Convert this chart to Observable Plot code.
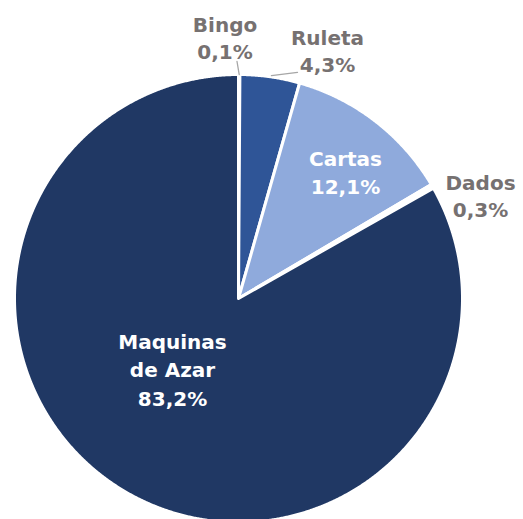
<!DOCTYPE html>
<html>
<head>
<meta charset="utf-8">
<script src="https://cdn.jsdelivr.net/npm/d3@7"></script>
<script src="https://cdn.jsdelivr.net/npm/@observablehq/plot@0.6"></script>
<style>
  html, body { margin: 0; padding: 0; background: #ffffff; }
  #chart svg { display: block; }
</style>
</head>
<body>
<div id="chart"></div>
<script>
// ---- data (clockwise from 12 o'clock) ----
const categories = ["Bingo", "Ruleta", "Cartas", "Dados", "Maquinas de Azar"];
const shares = [0.1, 4.3, 12.1, 0.3, 83.2];
const labelTexts = ["Bingo\n0,1%", "Ruleta\n4,3%", "Cartas\n12,1%", "Dados\n0,3%", "Maquinas\nde Azar\n83,2%"];
const sliceColors = ["#203864", "#2F5597", "#8FAADC", "#FFFFFF", "#203864"];

// ---- layout (pixels of the 523x519 frame) ----
const W = 523, H = 519, CX = 238, CY = 298, R = 224;

// pie angles from the values
const total = d3.sum(shares);
let acc = 0;
const slices = categories.map((name, i) => {
  const a0 = acc / total * 2 * Math.PI;
  acc += shares[i];
  const a1 = acc / total * 2 * Math.PI;
  return {name, value: shares[i], a0, a1, mid: (a0 + a1) / 2, i};
});
const polar = (a, r) => ({x: r * Math.sin(a), y: r * Math.cos(a)});

// polygon outline of each slice (centre -> arc -> centre)
const slicePoints = [];
for (const s of slices) {
  slicePoints.push({name: s.name, ...polar(0, 0)});
  const n = Math.max(2, Math.ceil((s.a1 - s.a0) / (Math.PI / 720)));
  for (let k = 0; k <= n; k++) {
    const a = s.a0 + (s.a1 - s.a0) * k / n;
    slicePoints.push({name: s.name, ...polar(a, 1)});
  }
}

// label placement (polar: degrees from 12 o'clock, radius in pie radii)
const deg = Math.PI / 180;
const labelPlace = {
  "Bingo": {a: -2.95, r: 1.171, outside: true},
  "Ruleta": {a: 19.67, r: 1.180, outside: true},
  "Cartas": {a: 40.0, r: 0.743, outside: false},
  "Dados": {a: 66.75, r: 1.176, outside: true},
  "Maquinas de Azar": {a: 223.5, r: 0.428, outside: false}
};
const labels = slices.map(s => {
  const p = labelPlace[s.name];
  return {name: s.name, text: labelTexts[s.i], outside: p.outside, ...polar(p.a * deg, p.r)};
});

// leader lines for the tiny slices
const leaders = [];
const slBingo = slices[0], slRuleta = slices[1];
leaders.push({id: "b", ...polar(slBingo.mid, 1.0)});
leaders.push({id: "b", ...polar(-0.36 * deg, 1.058)});
leaders.push({id: "r", ...polar(slRuleta.mid + 0.3 * deg, 1.006)});
leaders.push({id: "r", ...polar(14.63 * deg, 1.043)});

const chart = Plot.plot({
  width: W,
  height: H,
  margin: 0,
  x: {domain: [-CX / R, (W - CX) / R], axis: null},
  y: {domain: [-(H - CY) / R, CY / R], axis: null},
  color: {domain: categories, range: sliceColors},
  style: {background: "#ffffff", fontFamily: "DejaVu Sans, sans-serif"},
  marks: [
    Plot.line(slicePoints, {
      x: "x", y: "y", z: "name", fill: "name",
      stroke: "#ffffff", strokeWidth: 3, strokeLinejoin: "round",
      curve: "linear-closed"
    }),
    Plot.line(leaders, {x: "x", y: "y", z: "id", stroke: "#A6A6A6", strokeWidth: 1.3}),
    Plot.text(labels.filter(d => d.outside), {
      x: "x", y: "y", text: "text",
      fill: "#767171", fontSize: 20, fontWeight: "bold", lineHeight: 1.38,
      textAnchor: "middle", lineAnchor: "middle"
    }),
    Plot.text(labels.filter(d => !d.outside), {
      x: "x", y: "y", text: "text",
      fill: "#ffffff", fontSize: 20, fontWeight: "bold", lineHeight: 1.42,
      textAnchor: "middle", lineAnchor: "middle"
    })
  ]
});
document.getElementById("chart").appendChild(chart);
</script>
</body>
</html>
